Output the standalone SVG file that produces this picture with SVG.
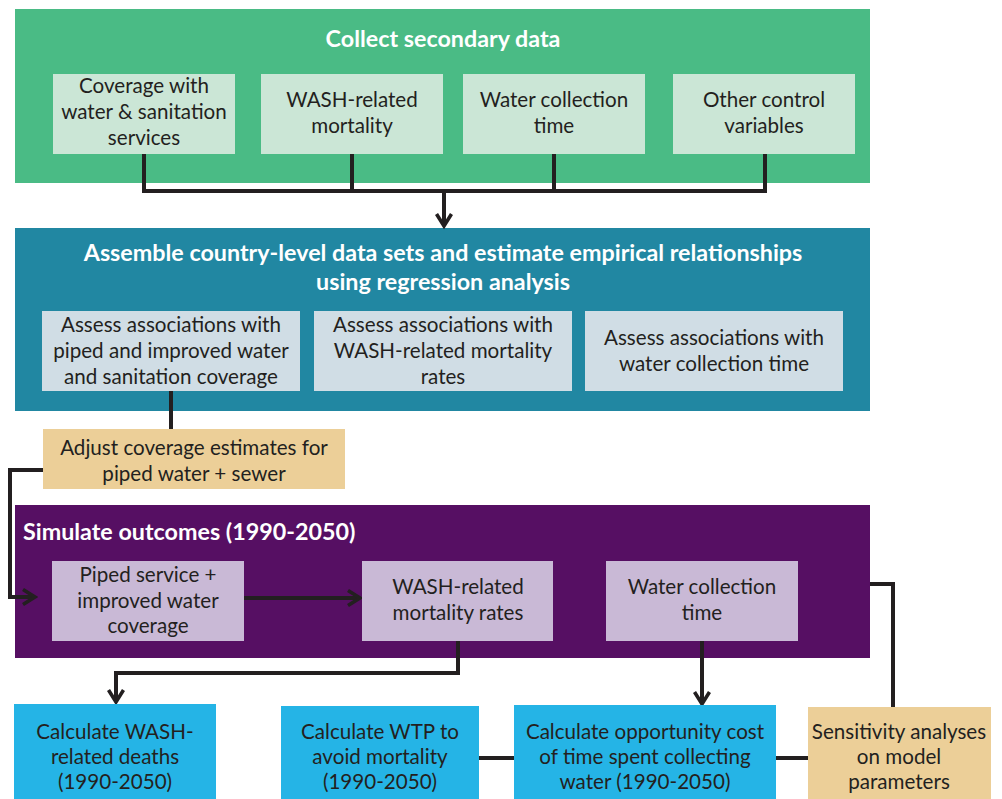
<svg xmlns="http://www.w3.org/2000/svg" width="1002" height="799" viewBox="0 0 1002 799">
<defs>
<style>
.t{font-family:Lato,"Liberation Sans",sans-serif;font-size:20.6px;fill:#231f20;text-anchor:middle}
.h{font-family:Lato,"Liberation Sans",sans-serif;font-size:23.3px;font-weight:bold;fill:#ffffff;text-anchor:middle}
.c{fill:none;stroke:#231f20;stroke-width:4;stroke-linejoin:miter}
</style>
<marker id="ah" viewBox="0 0 12 12" refX="10" refY="6" markerWidth="4.5" markerHeight="4.5" orient="auto" markerUnits="strokeWidth">
<path d="M2,1 L10,6 L2,11" fill="none" stroke="#231f20" stroke-width="2.4"/>
</marker>
</defs>
<rect width="1002" height="799" fill="#ffffff"/>
<g id="panel-collect">
<rect x="15" y="9" width="855" height="174" fill="#4abb85"/>
<text class="h" x="443" y="47">Collect secondary data</text>
</g>
<g id="panel-assemble">
<rect x="15" y="228" width="855" height="183" fill="#2187a2"/>
<text class="h" x="443" y="261">Assemble country-level data sets and estimate empirical relationships</text>
<text class="h" x="443" y="290">using regression analysis</text>
</g>
<g id="panel-simulate">
<rect x="15" y="505" width="855" height="153" fill="#560f63"/>
<text class="h" x="23" y="540" style="text-anchor:start">Simulate outcomes (1990-2050)</text>
</g>
<g id="connectors">
<path class="c" d="M144,154 V191 H765 V154"/>
<path class="c" d="M352,154 V191"/>
<path class="c" d="M554,154 V191"/>
<path class="c" d="M444,191 V226" marker-end="url(#ah)"/>
<path class="c" d="M171,391 V429"/>
<path class="c" d="M43,470 H10 V597 H35" marker-end="url(#ah)"/>
<path class="c" d="M244,598 H360" marker-end="url(#ah)"/>
<path class="c" d="M458,641 V673 H116 V702" marker-end="url(#ah)"/>
<path class="c" d="M702,641 V704" marker-end="url(#ah)"/>
<path class="c" d="M870,584 H893 V707"/>
<path class="c" d="M479,758 H514"/>
<path class="c" d="M776,758 H808"/>
</g>
<g id="n-coverage">
<rect x="53" y="74" width="182" height="80" fill="#cbe6d6"/>
<text class="t" x="144" y="93">Coverage with</text>
<text class="t" x="144" y="119">water &amp; sanitation</text>
<text class="t" x="144" y="145">services</text>
</g>
<g id="n-wash-mortality">
<rect x="261" y="74" width="182" height="80" fill="#cbe6d6"/>
<text class="t" x="352" y="107">WASH-related</text>
<text class="t" x="352" y="133">mortality</text>
</g>
<g id="n-collection-time">
<rect x="463" y="74" width="182" height="80" fill="#cbe6d6"/>
<text class="t" x="554" y="107">Water collection</text>
<text class="t" x="554" y="133">time</text>
</g>
<g id="n-other">
<rect x="673" y="74" width="182" height="80" fill="#cbe6d6"/>
<text class="t" x="764" y="107">Other control</text>
<text class="t" x="764" y="133">variables</text>
</g>
<g id="n-assess-coverage">
<rect x="42" y="311" width="258" height="80" fill="#d0dde5"/>
<text class="t" x="171" y="332">Assess associations with</text>
<text class="t" x="171" y="358">piped and improved water</text>
<text class="t" x="171" y="384">and sanitation coverage</text>
</g>
<g id="n-assess-mortality">
<rect x="314" y="311" width="258" height="80" fill="#d0dde5"/>
<text class="t" x="443" y="332">Assess associations with</text>
<text class="t" x="443" y="358">WASH-related mortality</text>
<text class="t" x="443" y="384">rates</text>
</g>
<g id="n-assess-time">
<rect x="585" y="311" width="258" height="80" fill="#d0dde5"/>
<text class="t" x="714" y="345">Assess associations with</text>
<text class="t" x="714" y="371">water collection time</text>
</g>
<g id="n-adjust">
<rect x="43" y="429" width="302" height="60" fill="#eccf98"/>
<text class="t" x="194" y="455">Adjust coverage estimates for</text>
<text class="t" x="194" y="481">piped water + sewer</text>
</g>
<g id="n-piped">
<rect x="52" y="561" width="192" height="80" fill="#c9b9d6"/>
<text class="t" x="148" y="582">Piped service +</text>
<text class="t" x="148" y="608">improved water</text>
<text class="t" x="148" y="633">coverage</text>
</g>
<g id="n-mortality-rates">
<rect x="362" y="561" width="191" height="80" fill="#c9b9d6"/>
<text class="t" x="458" y="594">WASH-related</text>
<text class="t" x="458" y="620">mortality rates</text>
</g>
<g id="n-sim-time">
<rect x="606" y="561" width="192" height="80" fill="#c9b9d6"/>
<text class="t" x="702" y="594">Water collection</text>
<text class="t" x="702" y="620">time</text>
</g>
<g id="n-deaths">
<rect x="14" y="704" width="202" height="95" fill="#25b4e6"/>
<text class="t" x="115" y="739">Calculate WASH-</text>
<text class="t" x="115" y="764">related deaths</text>
<text class="t" x="115" y="789">(1990-2050)</text>
</g>
<g id="n-wtp">
<rect x="281" y="706" width="198" height="93" fill="#25b4e6"/>
<text class="t" x="380" y="739">Calculate WTP to</text>
<text class="t" x="380" y="764">avoid mortality</text>
<text class="t" x="380" y="789">(1990-2050)</text>
</g>
<g id="n-opportunity">
<rect x="514" y="705" width="262" height="94" fill="#25b4e6"/>
<text class="t" x="645" y="739">Calculate opportunity cost</text>
<text class="t" x="645" y="764">of time spent collecting</text>
<text class="t" x="645" y="789">water (1990-2050)</text>
</g>
<g id="n-sensitivity">
<rect x="808" y="707" width="183" height="92" fill="#eccf98"/>
<text class="t" x="899" y="739">Sensitivity analyses</text>
<text class="t" x="899" y="764">on model</text>
<text class="t" x="899" y="789">parameters</text>
</g>
</svg>
